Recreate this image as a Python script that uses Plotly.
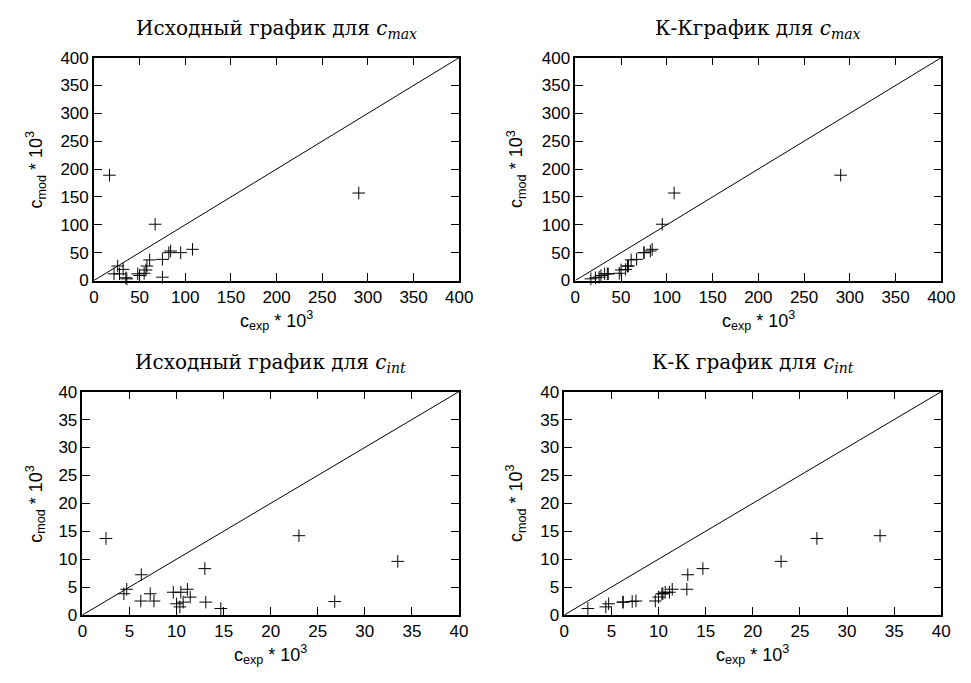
import plotly.graph_objects as go

# ---- data ----
cmax_exp = [17, 22, 26, 28, 32, 35, 36, 48, 50, 55, 57, 58, 61, 67, 75, 75, 82, 84, 95, 108, 290]
cmax_mod = [189, 12, 26, 12, 20, 5, 3, 12, 9, 13, 19, 26, 37, 101, 38, 6, 50, 53, 50, 56, 157]

cint_exp = [2.5, 4.4, 4.7, 6.2, 6.25, 7.2, 7.6, 9.65, 10.0, 10.35, 10.45, 10.7, 11.15, 11.45,
            13.0, 13.1, 14.7, 23.0, 26.8, 33.5]
cint_mod = [13.7, 3.8, 4.6, 2.5, 7.2, 3.8, 2.5, 4.07, 2.0, 1.45, 4.07, 2.3, 4.6, 3.2,
            8.3, 2.3, 1.15, 14.2, 2.4, 9.6]

cmax_ticks = [0, 50, 100, 150, 200, 250, 300, 350, 400]
cint_ticks = [0, 5, 10, 15, 20, 25, 30, 35, 40]

titles = ["Исходный график для <i>c</i><sub><i>max</i></sub>",
          "К-Кграфик для <i>c</i><sub><i>max</i></sub>",
          "Исходный график для <i>c</i><sub><i>int</i></sub>",
          "К-К график для <i>c</i><sub><i>int</i></sub>"]
xtitle = "c<sub>exp</sub> * 10<sup>3</sup>"
ytitle = "c<sub>mod</sub> * 10<sup>3</sup>"

W, H = 971, 683

# panel pixel boxes (left, right, top, bottom)
boxes = [(90.7, 463.3, 50.0, 279.3),
         (581.7, 955.0, 50.0, 279.3),
         (79.0, 463.0, 393.6, 623.3),
         (570.5, 955.0, 393.6, 623.3)]

datasets = [
    (cmax_exp, cmax_mod, cmax_ticks),
    (sorted(cmax_exp), sorted(cmax_mod), cmax_ticks),
    (cint_exp, cint_mod, cint_ticks),
    (sorted(cint_exp), sorted(cint_mod), cint_ticks),
]

fig = go.Figure()
layout = {}
annotations = []
sans = "Liberation Sans, Arial, sans-serif"
serif = "DejaVu Serif, Liberation Serif, serif"

for i, ((xs, ys, ticks), (l, r, t, b)) in enumerate(zip(datasets, boxes)):
    n = "" if i == 0 else str(i + 1)
    xa, ya = "x" + n, "y" + n
    diag = [ticks[0], ticks[-1]]
    fig.add_trace(go.Scatter(x=diag, y=diag, mode="lines", xaxis=xa, yaxis=ya,
                             line=dict(color="black", width=1), showlegend=False,
                             hoverinfo="skip"))
    fig.add_trace(go.Scatter(x=xs, y=ys, mode="markers", xaxis=xa, yaxis=ya,
                             marker=dict(symbol="cross-thin", size=9, color="black",
                                         line=dict(width=1, color="black")),
                             showlegend=False, cliponaxis=False))
    common = dict(range=[ticks[0], ticks[-1]], tickvals=ticks, ticks="inside", ticklen=8,
                  tickwidth=1.3, tickcolor="black", showline=True, linecolor="black",
                  linewidth=1.5, mirror="ticks", showgrid=False, zeroline=False,
                  tickfont=dict(family=sans, size=17, color="black"))
    layout["xaxis" + n] = dict(domain=[l / W, r / W], anchor=ya, **common)
    layout["yaxis" + n] = dict(domain=[1 - b / H, 1 - t / H], anchor=xa, **common)

    cx = (l + r) / 2
    cy = (t + b) / 2
    annotations.append(dict(text=titles[i], x=cx / W, y=1 - (t - 29) / H, xref="paper",
                            yref="paper", showarrow=False, xanchor="center", yanchor="middle",
                            font=dict(family=serif, size=20, color="black")))
    annotations.append(dict(text=xtitle, x=cx / W, y=1 - (b + 41) / H, xref="paper",
                            yref="paper", showarrow=False, xanchor="center", yanchor="middle",
                            font=dict(family=sans, size=18, color="black")))
    ylx = 31 if i % 2 == 0 else 521
    annotations.append(dict(text=ytitle, x=ylx / W, y=1 - cy / H, xref="paper",
                            yref="paper", showarrow=False, xanchor="center", yanchor="middle",
                            textangle=-90, font=dict(family=sans, size=18, color="black")))

fig.update_layout(width=W, height=H, margin=dict(l=0, r=0, t=0, b=0),
                  plot_bgcolor="white", paper_bgcolor="white",
                  annotations=annotations, **layout)
fig.write_html("out.html")
